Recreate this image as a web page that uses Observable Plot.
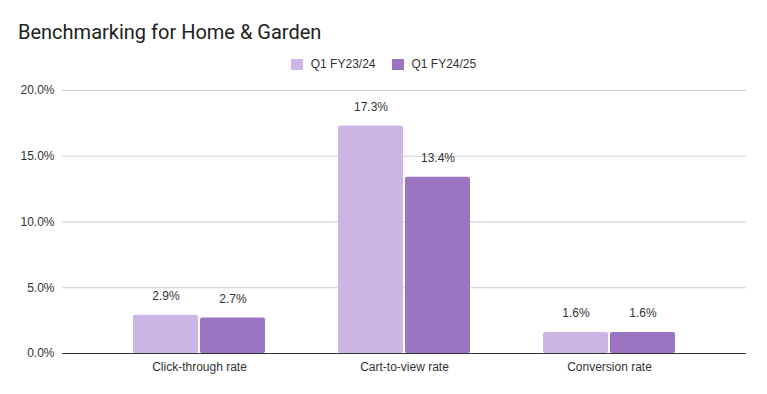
<!DOCTYPE html>
<html><head><meta charset="utf-8">
<script src="https://cdn.jsdelivr.net/npm/d3@7"></script>
<script src="https://cdn.jsdelivr.net/npm/@observablehq/plot@0.6"></script>
<style>
body{margin:0;background:#fff;font-family:"Liberation Sans", Arial, sans-serif;}
#wrap{position:relative;width:767px;height:394px;overflow:hidden;}
#title{position:absolute;left:18px;top:20px;font-family:Roboto, sans-serif;font-size:20px;line-height:24px;color:#212121;white-space:nowrap;}
#legend{position:absolute;left:0;width:767px;top:56px;height:16px;display:flex;justify-content:center;align-items:center;font-size:12px;line-height:16px;color:#333;}
.item{display:flex;align-items:center;}
.item + .item{margin-left:16px;}
.sw{width:12px;height:11px;margin-right:8px;}
#chart{position:absolute;top:80px;left:0;}
</style>
</head><body>
<div id="wrap">
  <div id="title">Benchmarking for Home &amp; Garden</div>
  <div id="legend"></div>
  <div id="chart"></div>
</div>
<script>
const categories = ["Click-through rate", "Cart-to-view rate", "Conversion rate"];
const seriesNames = ["Q1 FY23/24", "Q1 FY24/25"];
const fy2324 = [2.9, 17.3, 1.6];
const fy2425 = [2.7, 13.4, 1.6];
const yTicks = [0, 5, 10, 15, 20];
const colors = ["#cdb6e6", "#9c75c2"];

const d1 = categories.map((c, i) => ({category: c, value: fy2324[i]}));
const d2 = categories.map((c, i) => ({category: c, value: fy2425[i]}));
const fmt = d => d.toFixed(1) + "%";

const legend = document.getElementById("legend");
seriesNames.forEach((s, i) => {
  const it = document.createElement("div");
  it.className = "item";
  const sw = document.createElement("div");
  sw.className = "sw";
  sw.style.background = colors[i];
  const t = document.createElement("span");
  t.textContent = s;
  it.appendChild(sw); it.appendChild(t);
  legend.appendChild(it);
});

const chart = Plot.plot({
  width: 767,
  height: 314,
  marginLeft: 62,
  marginRight: 21,
  marginTop: 10,
  marginBottom: 41,
  style: {fontFamily: "'Liberation Sans', Arial, sans-serif", fontSize: "12px", color: "#333", background: "#fff"},
  x: {domain: categories, paddingInner: 0.356, paddingOuter: 0.346, label: null},
  y: {domain: [0, 20], label: null},
  marks: [
    Plot.ruleY(yTicks.filter(d => d > 0), {stroke: "#cccccc", strokeWidth: 1}),
    Plot.barY(d1, {x: "category", y: "value", fill: colors[0], insetLeft: 0, insetRight: 67, rx: 2}),
    Plot.barY(d2, {x: "category", y: "value", fill: colors[1], insetLeft: 67, insetRight: 0, rx: 2}),
    Plot.ruleY([0], {stroke: "#333", strokeWidth: 1}),
    Plot.text(d1, {x: "category", y: "value", text: d => fmt(d.value), dx: -33.5, dy: -19, fill: "#333", fontSize: 12}),
    Plot.text(d2, {x: "category", y: "value", text: d => fmt(d.value), dx: 33.5, dy: -19, fill: "#333", fontSize: 12}),
    Plot.axisY({ticks: yTicks, tickSize: 0, tickPadding: 8, tickFormat: fmt, label: null}),
    Plot.axisX({tickSize: 0, tickPadding: 9, label: null})
  ]
});
document.getElementById("chart").appendChild(chart);
</script>
</body></html>
